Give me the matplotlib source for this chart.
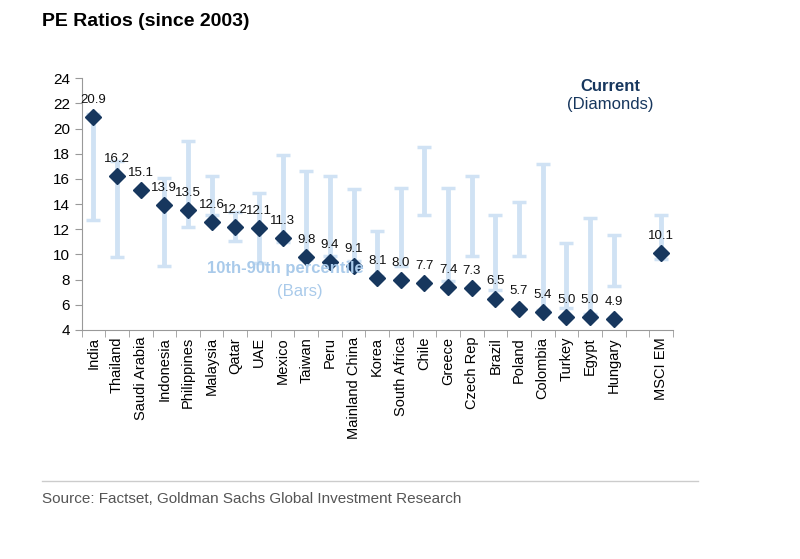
import matplotlib.pyplot as plt
import numpy as np

plt.rcParams["font.family"] = ["Liberation Sans", "DejaVu Sans"]

# 数据
countries = ["India", "Thailand", "Saudi Arabia", "Indonesia", "Philippines",
             "Malaysia", "Qatar", "UAE", "Mexico", "Taiwan", "Peru",
             "Mainland China", "Korea", "South Africa", "Chile", "Greece",
             "Czech Rep", "Brazil", "Poland", "Colombia", "Turkey", "Egypt",
             "Hungary", "", "MSCI EM"]
current = [20.9, 16.2, 15.1, 13.9, 13.5, 12.6, 12.2, 12.1, 11.3, 9.8, 9.4,
           9.1, 8.1, 8.0, 7.7, 7.4, 7.3, 6.5, 5.7, 5.4, 5.0, 5.0, 4.9,
           np.nan, 10.1]
pct10 = [12.7, 9.8, np.nan, 9.1, 12.2, 13.1, 11.1, 9.3, 11.0, 9.6, 9.9,
         9.5, 8.3, 9.05, 13.15, 7.9, 9.85, 7.2, 9.85, 5.6, 5.75, 5.3, 7.5,
         np.nan, 9.6]
pct90 = [21.2, 17.4, np.nan, 16.05, 19.0, 16.2, 13.4, 14.9, 17.9, 16.6, 16.2,
         15.2, 11.9, 15.3, 18.5, 15.3, 16.2, 13.1, 14.2, 17.2, 10.95, 12.9,
         11.55, np.nan, 13.15]

navy = "#17375E"
light = "#D0E2F4"

fig = plt.figure(figsize=(8, 5.59), dpi=100)
ax = fig.add_axes([0.102, 0.4097, 0.739, 0.4503])

x = np.arange(len(countries))
lo = np.array(pct10)
hi = np.array(pct90)
mid = (lo + hi) / 2
ax.errorbar(x, mid, yerr=(hi - lo) / 2, fmt="none", ecolor=light,
            elinewidth=3.5, capsize=5, capthick=2.5, zorder=1)
ax.plot(x, current, linestyle="none", marker="D", markersize=8,
        color=navy, zorder=3)

for xi, v in zip(x, current):
    if np.isnan(v):
        continue
    ax.annotate(f"{v:.1f}", (xi, v), xytext=(0, 8), textcoords="offset points",
                ha="center", va="bottom", fontsize=9.5, color="#111111")

ax.set_xlim(-0.5, len(countries) - 0.5)
ax.set_ylim(4, 24)
ax.set_yticks(np.arange(4, 25, 2))
ax.set_xticks(x)
ax.set_xticklabels(countries, rotation=90, fontsize=10.5)
ax.set_xticks(np.arange(-0.5, len(countries), 1), minor=True)
ax.tick_params(axis="x", which="major", length=0, pad=5)
ax.tick_params(axis="x", which="minor", length=5, color="#999999")
ax.tick_params(axis="y", length=5, color="#999999", labelsize=11)

for s in ["top", "right"]:
    ax.spines[s].set_visible(False)
for s in ["left", "bottom"]:
    ax.spines[s].set_color("#999999")

ax.text(0.894, 0.968, "Current", transform=ax.transAxes, ha="center",
        va="center", fontsize=12, fontweight="bold", color=navy)
ax.text(0.894, 0.897, "(Diamonds)", transform=ax.transAxes, ha="center",
        va="center", fontsize=12, color=navy)
ax.text(0.344, 0.246, "10th-90th percentile", transform=ax.transAxes,
        ha="center", va="center", fontsize=12, fontweight="bold",
        color="#A9CAEA")
ax.text(0.369, 0.151, "(Bars)", transform=ax.transAxes, ha="center",
        va="center", fontsize=12, color="#A9CAEA")

fig.text(0.052, 0.962, "PE Ratios (since 2003)", fontsize=14,
         fontweight="bold", ha="left", va="center")
fig.add_artist(plt.Line2D([0.052, 0.872], [0.14, 0.14], color="#CCCCCC",
                          linewidth=1, transform=fig.transFigure))
fig.text(0.052, 0.108, "Source: Factset, Goldman Sachs Global Investment Research",
         fontsize=11, color="#555555", ha="left", va="center")

fig.savefig("out.png", dpi=100)
